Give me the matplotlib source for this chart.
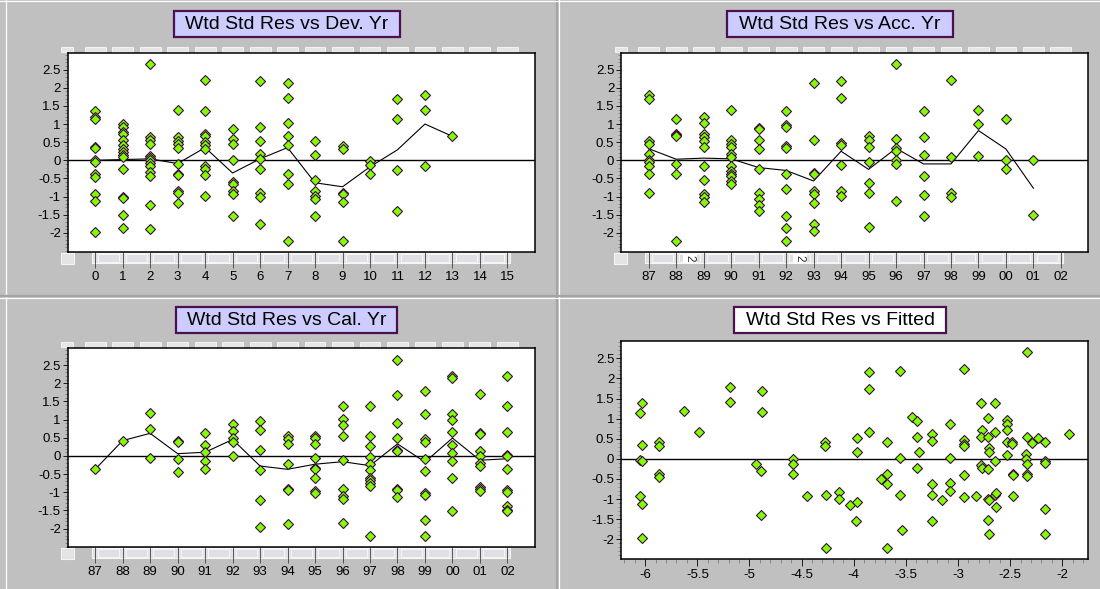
import matplotlib
matplotlib.use('Agg')
import matplotlib.pyplot as plt
from matplotlib.patches import Rectangle
from matplotlib.lines import Line2D
from matplotlib.ticker import MultipleLocator, FuncFormatter, FixedLocator

plt.rcParams['font.family'] = ['Liberation Sans', 'DejaVu Sans']

# residuals grouped by development year 0..13
dev_res = [
    [1.36, 1.18, 1.14, 0.38, 0.33, 0.0, -0.06, -0.38, -0.45, -0.94, -1.12, -1.97],
    [1.0, 0.93, 0.79, 0.73, 0.56, 0.41, 0.32, 0.24, 0.15, 0.08, -0.23, -1.0, -1.03, -1.51, -1.86],
    [2.65, 0.64, 0.57, 0.45, 0.12, 0.06, 0.0, -0.08, -0.16, -0.33, -0.44, -1.23, -1.89],
    [1.39, 0.65, 0.52, 0.45, 0.33, -0.09, -0.38, -0.41, -0.85, -0.91, -1.19],
    [2.22, 1.37, 0.72, 0.67, 0.5, 0.42, 0.32, -0.17, -0.25, -0.4, -0.98],
    [0.86, 0.6, 0.45, 0.0, -0.6, -0.65, -0.84, -0.92, -1.53],
    [2.19, 0.91, 0.54, 0.18, 0.03, -0.23, -0.9, -1.02, -1.77],
    [2.14, 1.71, 1.03, 0.66, 0.43, -0.37, -0.65, -2.22],
    [0.52, 0.14, -0.54, -0.84, -0.98, -1.08, -1.54],
    [0.4, 0.32, -0.9, -0.94, -1.14, -2.22],
    [-0.03, -0.14, -0.37],
    [1.68, 1.14, -0.28, -1.39],
    [1.79, 1.39, -0.17],
    [0.66],
]
dev_mean = [0.0, 0.02, 0.04, -0.09, 0.35, -0.35, 0.04, 0.35, -0.62, -0.73, -0.18, 0.29, 1.0, 0.66]
dev_ticks = list(range(16))

# residuals grouped by accident year 87..01
acc_res = [
    [1.79, 1.68, 0.52, 0.44, 0.17, 0.0, -0.05, -0.15, -0.38, -0.91],
    [1.13, 0.73, 0.69, 0.66, -0.09, -0.37, -2.22],
    [1.2, 1.02, 0.73, 0.65, 0.52, 0.36, -0.17, -0.55, -0.93, -1.01, -1.14],
    [1.39, 0.56, 0.45, 0.38, 0.16, 0.1, -0.16, -0.29, -0.39, -0.44, -0.56, -0.65],
    [0.89, 0.86, 0.56, 0.32, -0.23, -0.91, -1.07, -1.22, -1.39],
    [1.37, 0.97, 0.92, 0.4, 0.35, -0.37, -0.79, -1.53, -1.88, -2.22],
    [2.14, 0.55, -0.34, -0.39, -0.86, -0.93, -1.19, -1.76, -1.96],
    [2.19, 1.71, 0.48, 0.43, -0.12, -0.84, -0.98],
    [0.67, 0.57, 0.38, -0.05, -0.62, -0.9, -1.85],
    [2.66, 0.6, 0.33, 0.26, 0.01, -0.1, -1.11],
    [1.37, 0.65, 0.14, -0.42, -0.97, -1.54],
    [2.22, 0.08, -0.9, -1.0],
    [1.39, 1.0, 0.11],
    [1.13, 0.0, -0.23],
    [0.0, -1.51],
]
acc_mean = [0.32, 0.03, 0.06, 0.04, -0.2, -0.28, -0.57, 0.25, -0.25, 0.33, -0.1, -0.1, 0.82, 0.31, -0.77]

# residuals grouped by calendar year 87..02
cal_res = [
    [-0.37],
    [0.42],
    [1.19, 0.73, -0.06],
    [0.42, 0.38, -0.08, -0.45],
    [0.62, 0.3, 0.1, -0.14, -0.37],
    [0.88, 0.69, 0.5, 0.39, 0.0],
    [0.96, 0.7, 0.16, -0.4, -1.22, -1.95],
    [0.55, 0.46, 0.34, -0.23, -0.92, -0.95, -1.87],
    [0.55, 0.5, 0.34, -0.06, -0.34, -0.37, -0.6, -0.98, -1.02],
    [1.36, 1.02, 0.85, 0.55, -0.12, -0.9, -1.1, -1.18, -1.84],
    [1.36, 0.55, 0.26, -0.03, -0.23, -0.4, -0.6, -0.66, -0.76, -0.84, -2.2],
    [2.63, 1.68, 0.91, 0.48, 0.16, 0.12, -0.9, -0.95, -1.13],
    [1.78, 1.14, 0.46, 0.39, -0.09, -0.43, -1.03, -1.07, -1.76, -2.2],
    [2.19, 2.13, 1.14, 0.98, 0.65, 0.3, 0.08, -0.15, -0.62, -1.53],
    [1.69, 0.64, 0.6, 0.12, 0.0, -0.2, -0.27, -0.86, -0.92, -0.96],
    [2.21, 1.38, 0.65, 0.03, -0.01, -0.37, -0.95, -1.0, -1.38, -1.5, -1.52],
]
cal_mean = [-0.37, 0.42, 0.62, 0.06, 0.1, 0.45, -0.28, -0.37, -0.23, -0.16, -0.27, 0.33, -0.17, 0.49, -0.12, -0.08]

year_labels = ['87', '88', '89', '90', '91', '92', '93', '94', '95', '96',
               '97', '98', '99', '00', '01', '02']

# residual vs fitted value
fitted = [-6.03, -6.05, -6.03, -6.05, -6.03, -6.05, -6.03, -6.03, -5.87, -5.87,
          -5.87, -5.87, -5.63, -5.48, -5.19, -5.19, -4.88, -4.88, -4.94, -4.89,
          -4.89, -4.58, -4.58, -4.58, -4.45, -4.28, -4.28, -4.27, -4.27, -4.14,
          -4.14, -4.04, -3.97, -3.97, -3.97, -3.98, -3.85, -3.85, -3.85, -3.74,
          -3.68, -3.68, -3.68, -3.68, -3.56, -3.56, -3.56, -3.54, -3.44, -3.39,
          -3.39, -3.37, -3.39, -3.25, -3.25, -3.25, -3.25, -3.25, -3.15, -3.08,
          -3.08, -3.08, -3.08, -2.94, -2.94, -2.94, -2.94, -2.94, -2.94, -2.83,
          -2.78, -2.77, -2.78, -2.78, -2.77, -2.71, -2.71, -2.7, -2.7, -2.71,
          -2.71, -2.7, -2.71, -2.7, -2.65, -2.65, -2.65, -2.65, -2.64, -2.64,
          -2.53, -2.53, -2.53, -2.53, -2.53, -2.48, -2.48, -2.47, -2.47, -2.47,
          -2.34, -2.34, -2.35, -2.35, -2.34, -2.34, -2.34, -2.29, -2.23, -2.17,
          -2.17, -2.17, -2.17, -2.17, -1.94]
fit_res = [1.38, 1.15, 0.35, -0.02, -0.05, -0.93, -1.11, -1.96, 0.41, 0.32,
           -0.37, -0.45, 1.2, 0.66, 1.79, 1.42, 1.68, 1.17, -0.13, -0.3,
           -1.4, -0.01, -0.12, -0.37, -0.93, 0.41, 0.32, -0.91, -2.22, -0.82,
           -0.99, -1.14, 0.52, 0.17, -1.06, -1.55, 2.17, 1.73, 0.68, -0.51,
           0.42, -0.37, -0.63, -2.22, 2.19, 0.03, -0.91, -1.76, 1.05, 0.94,
           0.55, 0.17, -0.22, 0.61, 0.45, -0.63, -0.91, -1.55, -1.01, 0.86,
           0.01, -0.6, -0.81, 2.23, 0.48, 0.38, 0.32, -0.41, -0.96, -0.93,
           1.38, 0.71, 0.55, -0.16, -0.22, 1.02, 0.55, 0.27, 0.17, -0.24,
           -1.0, -1.03, -1.53, -1.86, 1.4, 0.68, -0.06, -0.89, -0.86, -1.19,
           0.96, 0.88, 0.71, 0.42, 0.09, 0.42, 0.36, -0.38, -0.41, -0.93,
           2.66, 0.55, 0.12, -0.01, -0.12, -0.37, -0.43, 0.4, 0.52, 0.42,
           -0.06, -0.09, -1.24, -1.86, 0.63]

W, H = 1100, 589
BG = '#C0C0C0'
fig = plt.figure(figsize=(W / 100, H / 100), dpi=100, facecolor=BG)


def fx(x):
    return x / W


def fy(y):
    return 1 - y / H


def make_ax(l, t, r, b):
    return fig.add_axes([fx(l), fy(b), (r - l) / W, (b - t) / H])


# panel separators
for x, c in [(6, 'white'), (556, '#A4A4A4'), (557, '#A4A4A4'), (558.5, 'white')]:
    fig.add_artist(Line2D([fx(x)] * 2, [0, 1], color=c, lw=0.9))
for y, c in [(1, 'white'), (295, '#A4A4A4'), (296, '#A4A4A4'), (297.5, 'white')]:
    fig.add_artist(Line2D([0, 1], [fy(y)] * 2, color=c, lw=0.9))


def title_box(text, l, t, r, b, fill):
    fig.add_artist(Rectangle((fx(l), fy(b)), (r - l) / W, (b - t) / H,
                             transform=fig.transFigure, facecolor=fill,
                             edgecolor='#4A1050', lw=1.6))
    fig.text(fx((l + r) / 2), fy((t + b) / 2) - 0.001, text, ha='center',
             va='center', fontsize=14, color='black')


fmt = FuncFormatter(lambda v, p: '%g' % round(v, 2))


def style_ax(ax, ylim):
    ax.set_facecolor('white')
    for s in ax.spines.values():
        s.set_linewidth(1.1)
    ax.set_ylim(*ylim)
    ax.yaxis.set_major_locator(FixedLocator([-2, -1.5, -1, -0.5, 0, 0.5, 1, 1.5, 2, 2.5]))
    ax.yaxis.set_minor_locator(MultipleLocator(0.1))
    ax.yaxis.set_major_formatter(fmt)
    ax.tick_params(axis='y', which='major', length=3.5, width=0.6, labelsize=9.5, pad=1.5)
    ax.tick_params(axis='y', which='minor', length=2, width=0.5, color='#707070')
    ax.axhline(0, color='black', lw=1, zorder=2)


MK = dict(ls='none', marker='D', ms=5, mfc='#80FF00', mec='#3C0A40', mew=0.8, zorder=4)


def strips(ax, n, twos=()):
    bh = ax.bbox.height
    up = ax.get_xaxis_transform()
    # small tabs above the plot
    boxes = [(-1.24, -0.79)] + [(i - 0.38, i + 0.38) for i in range(n)]
    for a, b in boxes:
        ax.add_patch(Rectangle((a, 1 + 1.6 / bh), b - a, 4.6 / bh, transform=up,
                               facecolor='#E6E6E6', edgecolor='#F8F8F8', lw=0.6,
                               clip_on=False))
    # scroll-like strip below the plot
    ax.add_patch(Rectangle((-1.25, -12.5 / bh), 0.47, 11 / bh, transform=up,
                           facecolor='#E4E4E4', edgecolor='#F4F4F4', lw=0.8, clip_on=False))
    ax.add_patch(Rectangle((-0.13, -11.5 / bh), 15.21, 10 / bh, transform=up,
                           facecolor='#E2E2E6', edgecolor='#F6F6F6', lw=0.8, clip_on=False))
    for i in range(n - 1):
        ax.add_patch(Rectangle((i + 0.12, -10.5 / bh), 0.76, 8 / bh, transform=up,
                               facecolor='#E0E0E4', edgecolor='white', lw=0.5,
                               clip_on=False))
    for x in twos:
        ax.text(x, -6.5 / bh, '2', transform=up, rotation=-90, ha='center',
                va='center', fontsize=8.5, color='#303030',
                bbox=dict(boxstyle='square,pad=0.1', fc='white', ec='none'))


def category_panel(l, t, r, b, groups, means, labels, ylim, twos=()):
    ax = make_ax(l, t, r, b)
    style_ax(ax, ylim)
    for i, g in enumerate(groups):
        ax.plot([i] * len(g), g, **MK)
    ax.plot(range(len(means)), means, color='black', lw=0.8, zorder=3)
    ax.set_xlim(-1, 16)
    ax.set_xticks(range(len(labels)))
    ax.set_xticklabels(labels)
    ax.tick_params(axis='x', length=11.5, width=0.6, labelsize=9.5, pad=2.5,
                   color='#404040')
    strips(ax, len(labels), twos)
    return ax


category_panel(67.7, 53.3, 534.9, 251.7, dev_res, dev_mean,
               [str(d) for d in dev_ticks], (-2.52, 2.95))
title_box('Wtd Std Res vs Dev. Yr', 174, 11, 400, 37, '#CCCCFF')

category_panel(621.2, 53.3, 1088.4, 251.7, acc_res, acc_mean, year_labels,
               (-2.52, 2.95), twos=(1.5, 5.5))
title_box('Wtd Std Res vs Acc. Yr', 727, 11, 953, 37, '#CCCCFF')

category_panel(67.7, 348.3, 534.9, 546.7, cal_res, cal_mean, year_labels,
               (-2.5, 2.96))
title_box('Wtd Std Res vs Cal. Yr', 176, 307, 397, 333, '#CCCCFF')

ax4 = make_ax(621.2, 340.7, 1088.4, 559)
style_ax(ax4, (-2.49, 2.94))
ax4.plot(fitted, fit_res, **MK)
ax4.set_xlim(-6.23, -1.75)
ax4.xaxis.set_major_locator(MultipleLocator(0.5))
ax4.xaxis.set_minor_locator(MultipleLocator(0.1))
ax4.xaxis.set_major_formatter(fmt)
ax4.tick_params(axis='x', which='major', length=5, width=0.6, labelsize=9.5, pad=2.5)
ax4.tick_params(axis='x', which='minor', length=3, width=0.5, color='#707070')
title_box('Wtd Std Res vs Fitted', 734, 307, 946, 333, 'white')

fig.savefig('out.png', dpi=100, facecolor=BG)
